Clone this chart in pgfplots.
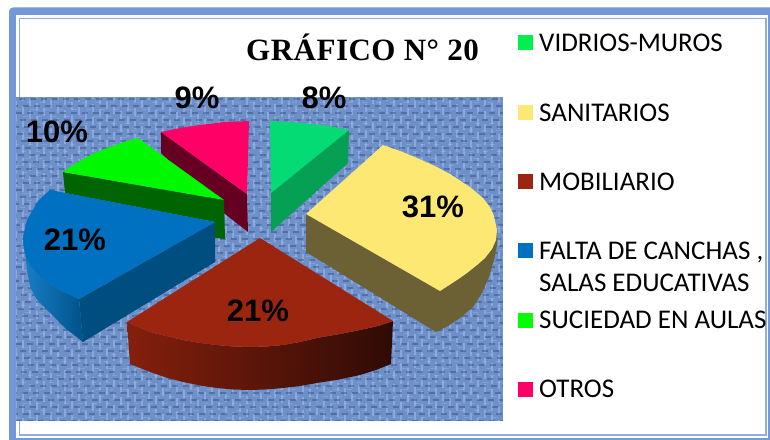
\documentclass[border=0pt]{standalone}
\usepackage{fontspec}
\usepackage{pgfplots}
\pgfplotsset{compat=1.18}
\setmainfont{Liberation Sans}
\newfontfamily\legfont{Carlito}
\newfontfamily\titlefont[LetterSpace=1.6]{Liberation Serif}
\definecolor{band}{HTML}{7598D8}
\definecolor{thinline}{HTML}{8FADE0}
\definecolor{texbase}{HTML}{6E8FC8}
\definecolor{texdark}{HTML}{1F3F78}
\definecolor{texlight}{HTML}{B8CFF5}
\definecolor{cvid}{HTML}{05DB74}
\definecolor{cvids}{HTML}{06A055}
\definecolor{cyel}{HTML}{FCE872}
\definecolor{cyels}{HTML}{6B6135}
\definecolor{cbro}{HTML}{9C250F}
\definecolor{cblu}{HTML}{0070C0}
\definecolor{cblus}{HTML}{004D80}
\definecolor{clim}{HTML}{00F800}
\definecolor{clims}{HTML}{006400}
\definecolor{cpin}{HTML}{FF0066}
\definecolor{cpins}{HTML}{660022}
\begin{document}
\begin{tikzpicture}[x=1bp,y=1bp]
% frame
\fill[white] (0,0) rectangle (770,440);
\begin{scope}
\clip (0,0) rectangle (770,440);
\fill[band,rounded corners=4bp] (9,-8) rectangle (776,432.5);
\fill[white] (16,2) rectangle (768,425);
\draw[thinline,line width=1.5bp] (19.5,5) rectangle (766,421.5);
\end{scope}
% woven background
\begin{scope}
\clip (16,19) rectangle (503,343);
\fill[texbase] (16,19) rectangle (503,343);
\foreach \i in {0,...,70}{
  \pgfmathsetmacro\xx{16+7*\i}
  \pgfmathsetmacro\ph{mod(\i*5,13)}
  \draw[texlight,opacity=.40,line width=2.2bp,dash pattern=on 8bp off 5bp,dash phase=\ph bp] (\xx,19) -- (\xx,343);
}
\foreach \i in {0,...,47}{
  \pgfmathsetmacro\yy{19+7*\i}
  \pgfmathsetmacro\ph{mod(\i*4,11)}
  \draw[texdark,opacity=.38,line width=2bp,dash pattern=on 6bp off 5bp,dash phase=\ph bp] (16,\yy) -- (503,\yy);
  \draw[texlight,opacity=.28,line width=1.5bp,dash pattern=on 5bp off 9bp,dash phase=\ph bp] (16,\yy+3.5) -- (503,\yy+3.5);
}
\end{scope}
\begin{axis}[
  at={(0,0)},anchor=south west,
  width=770bp,height=440bp,scale only axis,
  xmin=0,xmax=770,ymin=0,ymax=440,y dir=reverse,
  hide axis,clip=false]
% OTROS 9%
\addplot[draw=none,fill=cpins] coordinates {(161,132)(247,194)(248,232)(225,214)(161,153)} --cycle;
\addplot[draw=none,fill=cpin] coordinates {(247,194)(249,121)(225,122)(200,125)(180,128)(161,132)} --cycle;
% SUCIEDAD 10%
\addplot[draw=none,fill=clims] coordinates {(63,172)(224,200)(225,239)(215,238)(215,222)(65,193)} --cycle;
\addplot[draw=none,fill=clim] coordinates {(224,200)(63,172)(73,165)(85,158)(97,152)(110,147)(124,142)(138,138)} --cycle;
% FALTA 21%
\addplot[draw=none,left color=cblu!90!white,right color=cblus!85!cblu] coordinates {(23,237)(24,249)(27,260)(33,269)(40,277)(50,284)(60,290)(79,299)(83,342)(65,328)(47,310)(37,300)(30,287)(27,270)(25,253)} --cycle;
\addplot[draw=none,fill=cblus] coordinates {(79,299)(215,222)(215,262)(83,342)} --cycle;
\addplot[draw=none,fill=cblu] coordinates {(215,222)(50,190)(38,201)(27,220)(23,237)(24,249)(27,260)(33,269)(40,277)(50,284)(60,290)(79,299)} --cycle;
% MOBILIARIO 21%
\addplot[draw=none,left color=cbro!85!black,middle color=cbro!55!black,right color=cbro!30!black] coordinates {(127,322)(150,332)(166,336)(183,340)(200,343)(217,345)(233,346.5)(250,347)(266,346.5)(283,345)(300,342)(317,338)(340,334)(360,330)(378,326)(393,321)(391,364)(376,370)(360,375)(339,379.5)(317,383)(300,386)(283,388)(266,389.5)(250,390)(233,389.5)(217,388)(200,385.5)(183,382)(166,377.5)(150,372)(130,364)} --cycle;
\addplot[draw=none,fill=cbro] coordinates {(260,238)(127,322)(150,332)(166,336)(183,340)(200,343)(217,345)(233,346.5)(250,347)(266,346.5)(283,345)(300,342)(317,338)(340,334)(360,330)(378,326)(393,321)} --cycle;
% VIDRIOS 8%
\addplot[draw=none,fill=cvids] coordinates {(271,193)(349,130)(348,163)(271,232)} --cycle;
\addplot[draw=none,fill=cvid] coordinates {(271,193)(270,121)(290,122)(310,124)(330,126)(349,130)} --cycle;
% SANITARIOS 31%
\addplot[draw=none,fill=cyels] coordinates {(306,214)(440,291)(457,280)(467,273)(477,265)(485,258)(492,249)(496,240)(497,230)(497,245)(494,260)(489,277)(482,293)(473,307)(460,318)(448,326)(436,332)(306,252)} --cycle;
\addplot[draw=none,fill=cyel] coordinates {(440,291)(306,214)(383,145)(400,151)(417,158)(435,166)(450,174)(470,187)(483,198)(490,207)(494,216)(497,230)(496,240)(492,249)(485,258)(477,265)(467,273)(457,280)} --cycle;
% legend swatches
\addplot[draw=none,fill=cvid!50!green!90!cyan] coordinates {(518,35)(533,35)(533,50)(518,50)} --cycle;
\addplot[draw=none,fill=cyel] coordinates {(518,105)(533,105)(533,120)(518,120)} --cycle;
\addplot[draw=none,fill=cbro] coordinates {(518,174)(533,174)(533,189)(518,189)} --cycle;
\addplot[draw=none,fill=cblu] coordinates {(518,243)(533,243)(533,258)(518,258)} --cycle;
\addplot[draw=none,fill=green] coordinates {(518,313)(533,313)(533,328)(518,328)} --cycle;
\addplot[draw=none,fill=cpin] coordinates {(518,382)(533,382)(533,397)(518,397)} --cycle;
% percent labels
\begin{scope}[every node/.style={inner sep=0pt,font=\fontsize{31bp}{31bp}\selectfont\bfseries}]
\node at (axis cs:324,98) {8\%};
\node at (axis cs:433,207) {31\%};
\node at (axis cs:258,311) {21\%};
\node at (axis cs:75,240) {21\%};
\node at (axis cs:57,132) {10\%};
\node at (axis cs:197,98) {9\%};
\end{scope}
% title
\node[inner sep=0pt,anchor=base west] at (axis cs:246,61) {\fontsize{31bp}{31bp}\selectfont\titlefont\bfseries GRÁFICO N° 20};
% legend text
\begin{scope}[every node/.style={inner sep=0pt,anchor=base west,font=\fontsize{27bp}{27bp}\selectfont\legfont}]
\node at (axis cs:539,51.5) {VIDRIOS-MUROS};
\node at (axis cs:539,121.5) {SANITARIOS};
\node at (axis cs:539,190.5) {MOBILIARIO};
\node at (axis cs:539,260) {FALTA DE CANCHAS ,};
\node at (axis cs:539,292) {SALAS EDUCATIVAS};
\node at (axis cs:539,329) {SUCIEDAD EN AULAS};
\node at (axis cs:539,397) {OTROS};
\end{scope}
\end{axis}
\end{tikzpicture}
\end{document}
